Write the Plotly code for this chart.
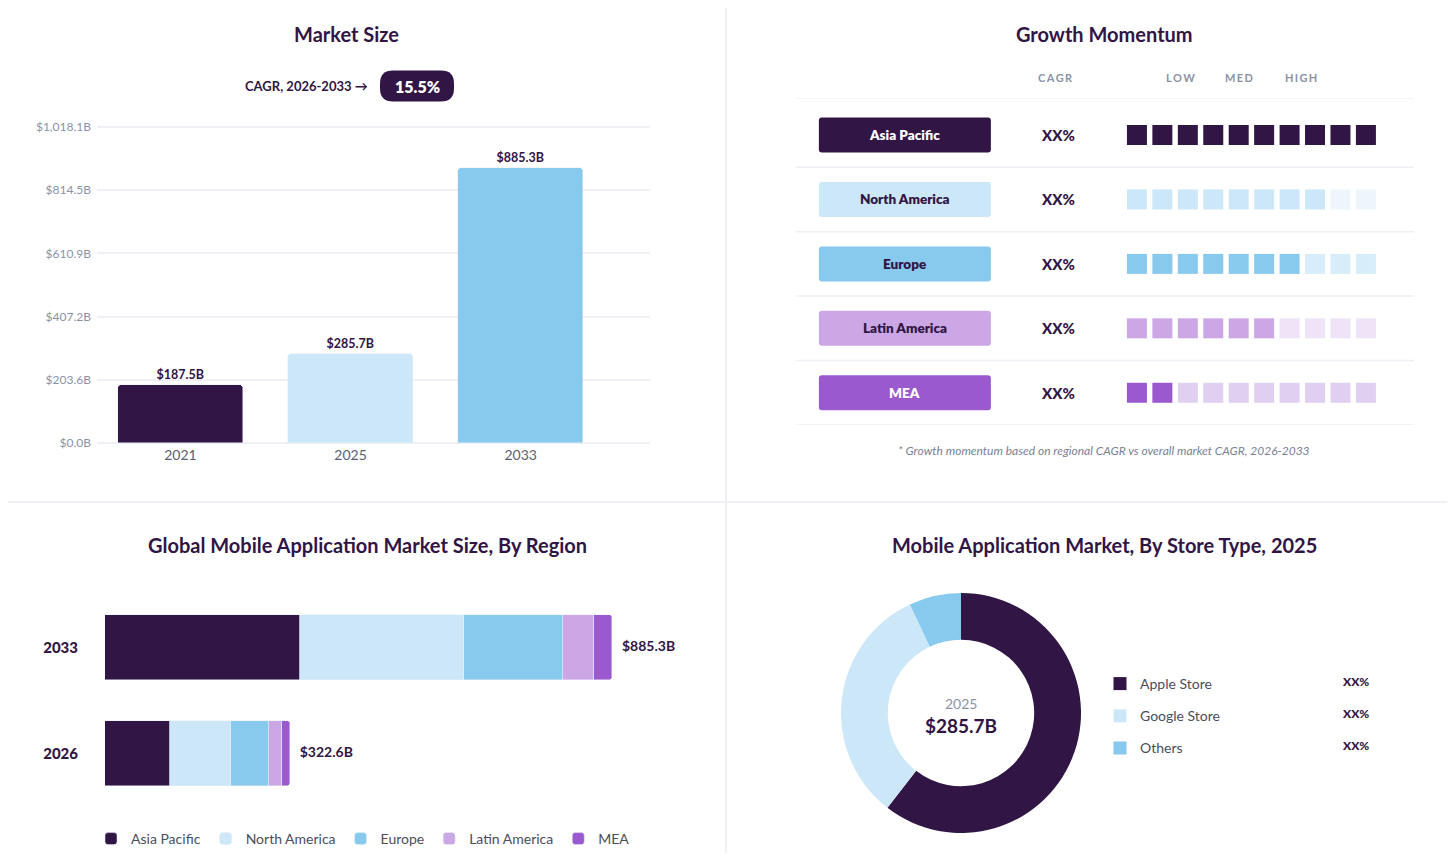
import plotly.graph_objects as go

# ---- data ----
years = ["2021", "2025", "2033"]
market_size = [187.5, 285.7, 885.3]
size_ticks = [0.0, 203.6, 407.2, 610.9, 814.5, 1018.1]
cagr_period = "CAGR, 2026-2033 →"
cagr_value = "15.5%"

regions = ["Asia Pacific", "North America", "Europe", "Latin America", "MEA"]
momentum_filled = [10, 8, 7, 6, 2]
momentum_steps = 10
momentum_cagr = ["XX%", "XX%", "XX%", "XX%", "XX%"]
momentum_header = ["LOW", "MED", "HIGH"]

region_years = ["2026", "2033"]
region_2026 = [113.8, 106.9, 64.9, 22.8, 14.2]
region_2033 = [340.5, 286.4, 172.9, 54.1, 31.4]

stores = ["Apple Store", "Google Store", "Others"]
store_share = [60.5, 32.5, 7.0]
store_share_text = ["XX%", "XX%", "XX%"]
store_year = "2025"
store_total = 285.7

# ---- styling ----
PAGE_W, PAGE_H = 1455, 861
OFF = 8  # default body margin of the html page
W, H = PAGE_W - 2 * OFF, PAGE_H - 2 * OFF
FONT = "Lato"
DARK = "#311544"
GRAY = "#8a93a6"
TEXT = "#4a4d5c"
LINE = "#eef0f5"
region_colors = ["#311544", "#cce8f8", "#88c9ee", "#cba8e5", "#9b59d0"]
region_faded = ["#311544", "#eef6fc", "#d7edfa", "#eee3f7", "#e0cff0"]
label_font_colors = ["white", DARK, DARK, DARK, "white"]
store_colors = ["#311544", "#cce8f8", "#88c9ee"]


def px(v):
    return (v - OFF) / W


def py(v):
    return 1 - (v - OFF) / H


def rounded_rect(xref, yref, cx, cy, w, h, r, color):
    x0, x1, y0, y1 = -w / 2, w / 2, -h / 2, h / 2
    path = (f"M{x0 + r},{y0} L{x1 - r},{y0} Q{x1},{y0} {x1},{y0 + r} "
            f"L{x1},{y1 - r} Q{x1},{y1} {x1 - r},{y1} L{x0 + r},{y1} "
            f"Q{x0},{y1} {x0},{y1 - r} L{x0},{y0 + r} Q{x0},{y0} {x0 + r},{y0} Z")
    return dict(type="path", xref=xref, yref=yref, xsizemode="pixel", ysizemode="pixel",
                xanchor=cx, yanchor=cy, path=path, fillcolor=color, line=dict(width=0))


fig = go.Figure()

# Market size bars (top left)
fig.add_trace(go.Bar(
    x=years, y=market_size, marker=dict(color=region_colors[:3], cornerradius=4),
    width=0.733, texttemplate="<b>$%{y:.1f}B</b>", textposition="outside",
    textfont=dict(size=12.5, color=DARK, weight=900), cliponaxis=False, showlegend=False,
    xaxis="x", yaxis="y", hoverinfo="x+y",
))

# Growth momentum squares (top right)
gx, gy, gc = [], [], []
for row, filled in enumerate(momentum_filled):
    for col in range(momentum_steps):
        gx.append(col)
        gy.append(row)
        gc.append(region_colors[row] if col < filled else region_faded[row])
fig.add_trace(go.Scatter(
    x=gx, y=gy, mode="markers", marker=dict(symbol="square", size=20, color=gc, line=dict(width=0)),
    showlegend=False, xaxis="x2", yaxis="y2", hoverinfo="skip",
))

# Regional stacked bars (bottom left)
for i, name in enumerate(regions):
    fig.add_trace(go.Bar(
        y=region_years, x=[region_2026[i], region_2033[i]], orientation="h", name=name,
        marker=dict(color=region_colors[i], cornerradius=3), width=0.613,
        xaxis="x3", yaxis="y3", legend="legend",
    ))
totals = [sum(region_2026), sum(region_2033)]
fig.add_trace(go.Scatter(
    y=region_years, x=totals, mode="text",
    text=[f"\u00a0\u00a0\u00a0<b>${t:.1f}B</b>" for t in totals],
    textposition="middle right", textfont=dict(size=14, color=DARK, weight=900), cliponaxis=False,
    showlegend=False, xaxis="x3", yaxis="y3", hoverinfo="skip",
))

# Store type donut (bottom right)
fig.add_trace(go.Pie(
    labels=stores, values=store_share, hole=0.61, sort=False, direction="clockwise",
    marker=dict(colors=store_colors, line=dict(width=0)), textinfo="none",
    domain=dict(x=[px(841), px(1081)], y=[py(833), py(593)]), showlegend=False,
))
for name, c in zip(stores, store_colors):
    fig.add_trace(go.Scatter(
        x=[None], y=[None], mode="markers", name=name, legend="legend2", legendgroup=name,
        marker=dict(symbol="square", size=13, color=c), xaxis="x3", yaxis="y3",
    ))

# ---- annotations ----
ann = []


def text(x, y, s, size, color=DARK, weight=None, xref="paper", yref="paper", xanchor="center", **kw):
    f = dict(family=FONT, size=size, color=color)
    if weight:
        f["weight"] = weight
    ann.append(dict(x=x, y=y, xref=xref, yref=yref, text=s, showarrow=False, font=f,
                    xanchor=xanchor, yanchor="middle", **kw))


text(px(346), py(34), "Market Size", 20, weight=700)
text(px(1104), py(34), "Growth Momentum", 20, weight=700)
text(px(367), py(545), "Global Mobile Application Market Size, By Region", 20, weight=700)
text(px(1104), py(545), "Mobile Application Market, By Store Type, 2025", 20, weight=700)

text(px(370), py(86), cagr_period, 13, weight=700, xanchor="right")
text(px(417), py(86), cagr_value, 16, color="white", weight=800)

spaced = lambda s: "\u2009".join(s)
text(px(1055), py(78), spaced("CAGR"), 11, color=GRAY, weight=700)
for s, xp in zip(momentum_header, [1180, 1239, 1301]):
    text(px(xp), py(78), spaced(s), 11, color=GRAY, weight=700)

label_col = -9.12
for i, name in enumerate(regions):
    text(label_col, i, name, 13.5, color=label_font_colors[i], weight=800, xref="x2", yref="y2")
    text(-3.1, i, momentum_cagr[i], 15, weight=900, xref="x2", yref="y2")

text(px(1104), py(450), "<i>* Growth momentum based on regional CAGR vs overall market CAGR, 2026-2033</i>",
     12, color="#7a8194")

text(px(961), py(703), store_year, 14, color=GRAY)
text(px(961), py(725), f"<b>${store_total:.1f}B</b>", 19, weight=900)
for s, yp in zip(store_share_text, [681, 713, 745]):
    text(px(1355), py(yp), s, 12, weight=900)

# ---- shapes ----
shapes = [
    dict(type="line", xref="paper", yref="paper", x0=px(726), x1=px(726), y0=-0.02, y1=1.02,
         line=dict(color=LINE, width=2)),
    dict(type="line", xref="paper", yref="paper", x0=-0.01, x1=1.01, y0=py(502), y1=py(502),
         line=dict(color=LINE, width=2)),
    rounded_rect("paper", "paper", px(417), py(86), 74, 31, 13, DARK),
]
for yv in [-0.574] + [i + 0.5 for i in range(len(regions))]:
    shapes.append(dict(type="line", xref="x2 domain", yref="y2", x0=0, x1=1, y0=yv, y1=yv,
                       line=dict(color=LINE, width=1.5), layer="below"))
for i in range(len(regions)):
    shapes.append(rounded_rect("x2", "y2", label_col, i, 172, 35, 3, region_colors[i]))

# value axis of the top chart: 0 at y=443px, 1018.1 at y=127px, padded a little
k = (443 - 127) / 1018.1
y_lo, y_hi = -5, 1025

fig.update_layout(
    width=W, height=H, margin=dict(l=0, r=0, t=0, b=0, autoexpand=False),
    paper_bgcolor="white", plot_bgcolor="white",
    font=dict(family=FONT, color=TEXT),
    barmode="stack", bargap=0,
    annotations=ann, shapes=shapes,
    xaxis=dict(domain=[px(97), px(650)], range=[-0.49, 2.76], type="category",
               showgrid=False, zeroline=False, ticks="", tickfont=dict(size=14, color="#5b6070"),
               fixedrange=True, automargin=False),
    yaxis=dict(domain=[py(443 - y_lo * k), py(443 - y_hi * k)], range=[y_lo, y_hi],
               tickvals=size_ticks, ticktext=[f"${v:,.1f}B" for v in size_ticks],
               gridcolor=LINE, gridwidth=1.5, zeroline=False, ticks="", ticklabelstandoff=5,
               tickfont=dict(size=12, color=GRAY), fixedrange=True, automargin=False),
    xaxis2=dict(domain=[px(796), px(1414)], range=[-13.40, 10.89], visible=False, fixedrange=True),
    yaxis2=dict(domain=[py(425), py(98)], range=[4.5, -0.574], visible=False, fixedrange=True),
    xaxis3=dict(domain=[px(105), px(705)], range=[0, 1047.7], visible=False, fixedrange=True),
    yaxis3=dict(domain=[py(810), py(590)], range=[-0.533, 1.542], type="category",
                categoryorder="array", categoryarray=region_years, showgrid=False,
                zeroline=False, ticks="", ticklabelstandoff=18, automargin=False,
                tickfont=dict(size=15, color=DARK, weight=900), fixedrange=True),
    legend=dict(orientation="h", x=px(91), xanchor="left", y=py(839), yanchor="middle",
                font=dict(size=14, color=TEXT), itemwidth=30, traceorder="normal"),
    legend2=dict(x=px(1100), xanchor="left", y=py(668), yanchor="top", tracegroupgap=11,
                 font=dict(size=14, color=TEXT), itemwidth=30, traceorder="grouped"),
)

fig.write_html("out.html")
